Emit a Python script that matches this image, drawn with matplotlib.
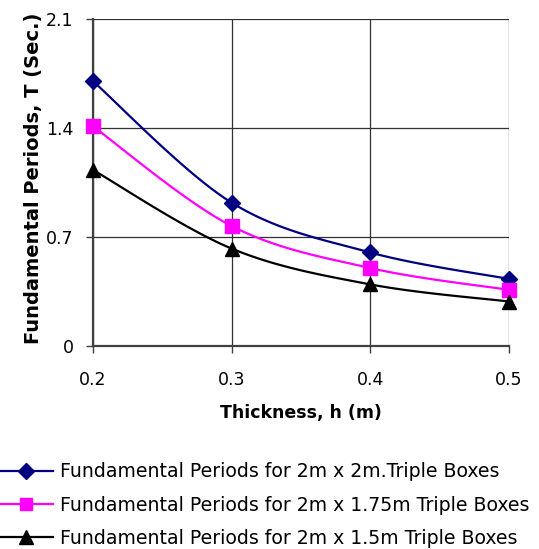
import numpy as np
import matplotlib

matplotlib.use("Agg")
import matplotlib.pyplot as plt
from matplotlib.lines import Line2D

plt.rcParams["font.family"] = ["DejaVu Sans"]

thickness = [0.2, 0.3, 0.4, 0.5]
period_2x2 = [1.70, 0.92, 0.60, 0.43]
period_2x175 = [1.41, 0.77, 0.50, 0.36]
period_2x15 = [1.13, 0.625, 0.395, 0.285]

labels = [
    "Fundamental Periods for 2m x 2m.Triple Boxes",
    "Fundamental Periods for 2m x 1.75m Triple Boxes",
    "Fundamental Periods for 2m x 1.5m Triple Boxes",
]

XLIM = (0.2, 0.5)
YLIM = (0.0, 2.1)


def smooth(xs, ys, n=40):
    """Bezier smoothing through the points (Catmull-Rom style, in axis-normalised space)."""
    xs = np.asarray(xs, float)
    ys = np.asarray(ys, float)
    sx = XLIM[1] - XLIM[0]
    sy = YLIM[1] - YLIM[0]
    p = np.column_stack([(xs - XLIM[0]) / sx, (ys - YLIM[0]) / sy * 0.79])
    pts = np.vstack([p[0], p, p[-1]])
    out = []
    t = np.linspace(0, 1, n)[:, None]
    for i in range(1, len(pts) - 2):
        p0, p1, p2, p3 = pts[i - 1], pts[i], pts[i + 1], pts[i + 2]
        c1 = p1 + (p2 - p0) / 6
        c2 = p2 - (p3 - p1) / 6
        seg = ((1 - t) ** 3) * p1 + 3 * ((1 - t) ** 2) * t * c1 + 3 * (1 - t) * t ** 2 * c2 + t ** 3 * p2
        out.append(seg if i == 1 else seg[1:])
    c = np.vstack(out)
    return c[:, 0] * sx + XLIM[0], c[:, 1] / 0.79 * sy + YLIM[0]


fig = plt.figure(figsize=(5.39, 5.49), dpi=100)
ax = fig.add_axes([0.1726, 0.370, 0.7714, 0.5954])

series = [
    (period_2x2, "#000080", "D", 8.5),
    (period_2x175, "#FF00FF", "s", 9.5),
    (period_2x15, "#000000", "^", 10),
]
handles = []
for (vals, color, marker, ms), label in zip(series, labels):
    sx, sy = smooth(thickness, vals)
    ax.plot(sx, sy, color=color, lw=1.6, zorder=3, clip_on=False)
    ax.plot(thickness, vals, ls="none", marker=marker, ms=ms, color=color,
            zorder=4, clip_on=False)
    handles.append(Line2D([], [], color=color, lw=1.6, marker=marker, ms=ms - 0.5))

ax.set_xlim(*XLIM)
ax.set_ylim(*YLIM)
ax.set_xticks(thickness)
ax.set_xticklabels(["0.2", "0.3", "0.4", "0.5"])
ax.set_yticks([0, 0.7, 1.4, 2.1])
ax.set_yticklabels(["0", "0.7", "1.4", "2.1"])
ax.grid(True, color="#303030", lw=0.9)
ax.set_axisbelow(True)
for side in ("top", "right"):
    ax.spines[side].set_visible(False)
for side in ("left", "bottom"):
    ax.spines[side].set_color("#404040")
    ax.spines[side].set_linewidth(1.6)
ax.tick_params(direction="out", length=5, width=1, color="#404040",
               labelsize=12.5, pad=9)
ax.tick_params(axis="x", pad=13)

ax.set_xlabel("Thickness, h (m)", fontsize=12.5, fontweight="bold", labelpad=11)
ax.set_ylabel("Fundamental Periods, T (Sec.)", fontsize=14, fontweight="bold")
ax.yaxis.set_label_coords(-0.12, 0.513)

fig.legend(handles, labels, loc="upper left", bbox_to_anchor=(0.0, 0.158),
           frameon=False, fontsize=13.6, handlelength=2.8, handletextpad=0.4,
           labelspacing=0.76, borderaxespad=0, borderpad=0)

fig.savefig("out.png", dpi=100)
